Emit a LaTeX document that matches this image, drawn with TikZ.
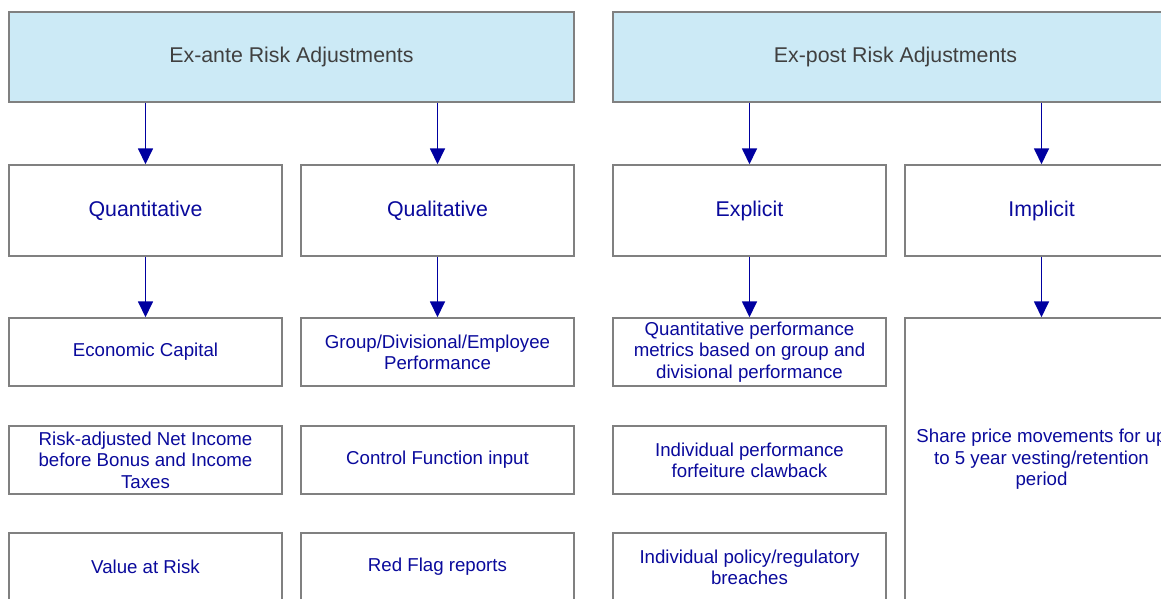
\documentclass[tikz,border=0pt]{standalone}
\usepackage{fontspec}
\setmainfont{Liberation Sans}
\usetikzlibrary{arrows.meta,positioning}

\definecolor{headblue}{HTML}{CCEAF6}
\definecolor{boxgray}{HTML}{808080}
\definecolor{textblue}{HTML}{0A0A9C}
\definecolor{arrowblue}{HTML}{0000A0}
\definecolor{headtext}{HTML}{404040}

\tikzset{
  box/.style={draw=boxgray, line width=1.1pt, fill=white, text=textblue, align=center, inner sep=0pt,
              minimum width=273*0.75pt},
  headbox/.style={box, fill=headblue, text=headtext, font=\fontsize{16}{19}\selectfont,
                  minimum width=565*0.75pt, minimum height=90*0.75pt},
  kindbox/.style={box, font=\fontsize{16}{19}\selectfont, minimum height=91*0.75pt},
  itembox/.style={box, font=\fontsize{14}{16}\selectfont, minimum height=68*0.75pt},
  arr/.style={draw=arrowblue, line width=1.3pt, -{Triangle[width=15*0.75pt,length=16*0.75pt]}}
}

\begin{document}
\begin{tikzpicture}[x=0.75pt, y=-0.75pt]

		\useasboundingbox (0,0) rectangle (1161,599);
		\clip (0,0) rectangle (1161,599);

		% headings
		\node[headbox] (exante) at (291.5,57) {Ex-ante Risk Adjustments};
		\node[headbox] (expost) at (895.5,57) {Ex-post Risk Adjustments};

		% kinds
		\node[kindbox] (quant) at (145.5,210.5) {Quantitative};
		\node[kindbox] (qual) at (437.5,210.5) {Qualitative};
		\node[kindbox] (explicit) at (749.5,210.5) {Explicit};
		\node[kindbox] (implicit) at (1041.5,210.5) {Implicit};

		% ex-ante items
		\node[itembox] (econ) at (145.5,352) {Economic Capital};
		\node[itembox] (rani) at (145.5,460) {Risk-adjusted Net Income\\before Bonus and Income\\Taxes};
		\node[itembox] (var) at (145.5,567) {Value at Risk};
		\node[itembox] (group) at (437.5,352) {Group/Divisional/Employee\\Performance};
		\node[itembox] (control) at (437.5,460) {Control Function input};
		\node[itembox] (redflag) at (437.5,567) {Red Flag reports};

		% ex-post items
		\node[itembox] (quantperf) at (749.5,352) {Quantitative performance\\metrics based on group and\\divisional performance};
		\node[itembox] (indperf) at (749.5,460) {Individual performance\\forfeiture clawback};
		\node[itembox] (indpolicy) at (749.5,567) {Individual policy/regulatory\\breaches};
		\node[itembox, minimum height=283*0.75pt] (share) at (1041.5,459.5) {Share price movements for up\\to 5 year vesting/retention\\period};

		% arrows
		\draw[arr] (quant.north |- exante.south) -- (quant.north);
		\draw[arr] (qual.north |- exante.south) -- (qual.north);
		\draw[arr] (explicit.north |- expost.south) -- (explicit.north);
		\draw[arr] (implicit.north |- expost.south) -- (implicit.north);
		\draw[arr] (quant) -- (econ);
		\draw[arr] (qual) -- (group);
		\draw[arr] (explicit) -- (quantperf);
		\draw[arr] (implicit) -- (share.north);

\end{tikzpicture}
\end{document}
